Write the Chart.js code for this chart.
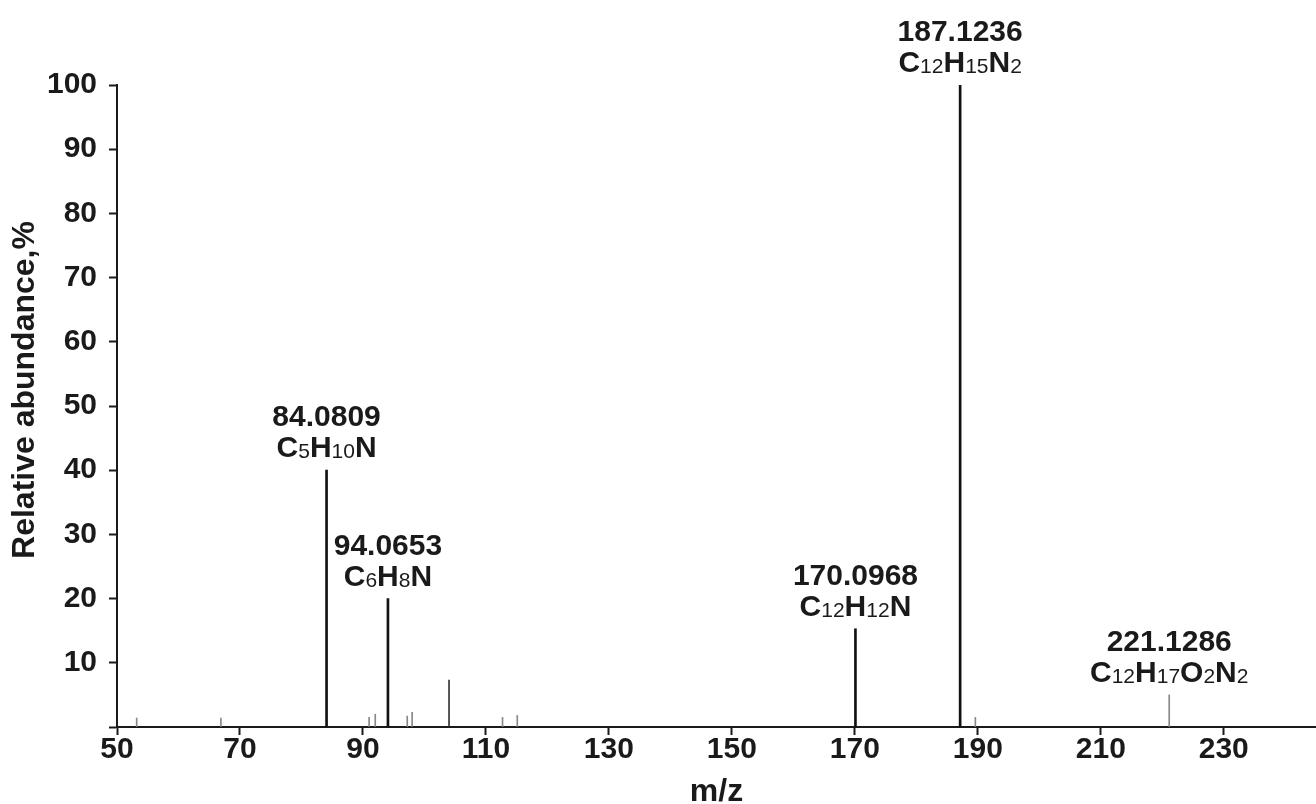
<!DOCTYPE html>
<html>
<head>
<meta charset="utf-8">
<script src="https://cdn.jsdelivr.net/npm/chart.js@4.4.1/dist/chart.umd.min.js"></script>
<style>
  html, body { margin: 0; padding: 0; background: #ffffff; }
  #wrap { width: 1316px; height: 804px; }
</style>
</head>
<body>
<div id="wrap"><canvas id="c" width="1316" height="804"></canvas></div>
<script>
// ---- data ----
const majorMz     = [84.0809, 94.0653, 170.0968, 187.1236];
const majorAbund  = [40.0, 20.0, 15.3, 100.0];

const minorMz     = [53.2, 66.9, 91.0, 92.0, 97.2, 98.0, 104.0, 112.7, 115.1, 189.6, 221.1286];
const minorAbund  = [1.4, 1.4, 1.5, 2.0, 1.7, 2.3, 7.3, 1.5, 1.8, 1.5, 5.0];

const labelMz       = [84.0809, 94.0653, 170.0968, 187.1236, 221.1286];
const labelMass     = ["84.0809", "94.0653", "170.0968", "187.1236", "221.1286"];
const labelFormula  = ["C5H10N", "C6H8N", "C12H12N", "C12H15N2", "C12H17O2N2"];

const xTickValues = [50, 70, 90, 110, 130, 150, 170, 190, 210, 230];
const yTickValues = [0, 10, 20, 30, 40, 50, 60, 70, 80, 90, 100];

const xTitle = "m/z";
const yTitle = "Relative abundance,%";

// ---- build ----
const FONT = "'Liberation Sans', Arial, Helvetica, sans-serif";
const INK = '#1a1a1a';
const toPts = (xs, ys) => xs.map((x, i) => ({ x: x, y: ys[i] }));

function abundanceAt(mz) {
  let i = majorMz.indexOf(mz);
  if (i >= 0) return majorAbund[i];
  i = minorMz.indexOf(mz);
  return i >= 0 ? minorAbund[i] : 0;
}

const peakLabels = {
  id: 'peakLabels',
  afterDatasetsDraw(chart) {
    const ctx = chart.ctx;
    const xs = chart.scales.x, ys = chart.scales.y;
    const area = chart.chartArea;
    ctx.save();
    ctx.fillStyle = INK;
    ctx.textBaseline = 'alphabetic';
    labelMz.forEach((mz, i) => {
      const px = xs.getPixelForValue(mz);
      const py = ys.getPixelForValue(abundanceAt(mz));
      const base2 = py - 13;
      const base1 = base2 - 31;
      ctx.font = "bold 30px " + FONT;
      ctx.textAlign = 'center';
      ctx.fillText(labelMass[i], px, base1);
      const tokens = labelFormula[i].match(/[A-Za-z]+|\d+/g);
      const big = "bold 30px " + FONT, small = "21px " + FONT;
      let total = 0;
      const widths = tokens.map(t => {
        ctx.font = /\d/.test(t) ? small : big;
        const w = ctx.measureText(t).width;
        total += w;
        return w;
      });
      let cx = px - total / 2;
      ctx.textAlign = 'left';
      tokens.forEach((t, k) => {
        const isNum = /\d/.test(t);
        ctx.font = isNum ? small : big;
        ctx.fillText(t, cx, isNum ? base2 + 1 : base2);
        cx += widths[k];
      });
    });
    // axis titles
    ctx.font = "bold 32px " + FONT;
    ctx.textAlign = 'center';
    ctx.textBaseline = 'middle';
    ctx.fillText(xTitle, (area.left + area.right) / 2, 792);
    ctx.translate(25, 390);
    ctx.rotate(-Math.PI / 2);
    ctx.fillText(yTitle, 0, 0);
    ctx.restore();
  }
};

new Chart(document.getElementById('c'), {
  type: 'bar',
  data: {
    datasets: [
      {
        data: toPts(majorMz, majorAbund),
        backgroundColor: '#111111',
        barThickness: 2,
        grouped: false
      },
      {
        data: toPts(minorMz, minorAbund),
        backgroundColor: minorMz.map(m => m === 104.0 ? '#333333' : '#888888'),
        barThickness: 1,
        grouped: false
      }
    ]
  },
  options: {
    responsive: false,
    animation: false,
    devicePixelRatio: 1,
    layout: { padding: { top: 85, right: 0, left: 0, bottom: 0 } },
    plugins: { legend: { display: false }, tooltip: { enabled: false } },
    scales: {
      x: {
        type: 'linear',
        min: 50,
        max: 245,
        offset: false,
        afterFit: s => { s.height = 77; },
        afterBuildTicks: s => { s.ticks = xTickValues.map(v => ({ value: v })); },
        ticks: {
          autoSkip: false, maxRotation: 0, padding: -3,
          color: INK,
          font: { family: FONT, size: 30, weight: 'bold' },
          callback: v => String(v)
        },
        grid: { offset: false, drawOnChartArea: false, tickLength: 8, tickWidth: 2, tickColor: INK },
        border: { color: INK, width: 2 },
        title: { display: false }
      },
      y: {
        min: 0,
        max: 100,
        afterFit: s => { s.width = 117; },
        afterBuildTicks: s => { s.ticks = yTickValues.map(v => ({ value: v })); },
        ticks: {
          autoSkip: false, padding: 12,
          color: INK,
          font: { family: FONT, size: 30, weight: 'bold' },
          callback: v => (v === 0 ? '' : String(v))
        },
        grid: { offset: false, drawOnChartArea: false, tickLength: 8, tickWidth: 2, tickColor: INK },
        border: { color: INK, width: 2 },
        title: { display: false }
      }
    }
  },
  plugins: [peakLabels]
});
</script>
</body>
</html>
